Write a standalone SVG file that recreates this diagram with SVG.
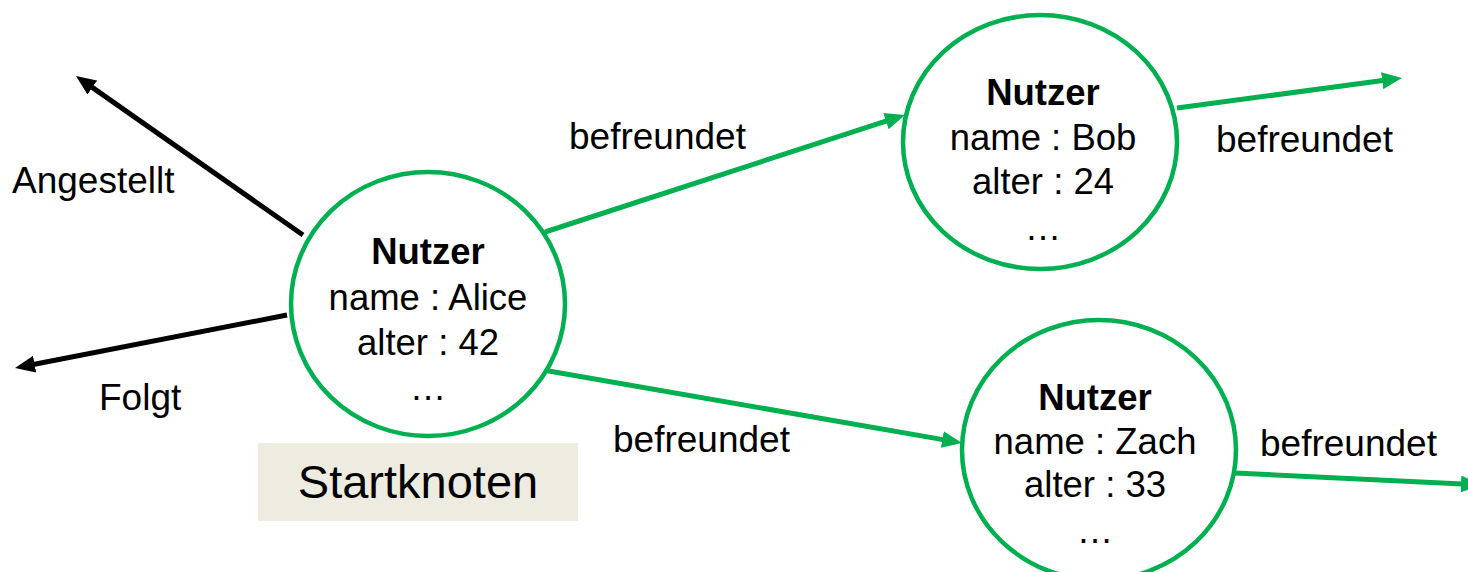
<svg xmlns="http://www.w3.org/2000/svg" width="1468" height="572" viewBox="0 0 1468 572">
  <style>
    .node { fill: #FFFFFF; stroke: #00B050; stroke-width: 4.5; }
    .rel { stroke-width: 5; fill: none; }
    .green { stroke: #00B050; }
    .black { stroke: #000000; }
    text { font-family: "Liberation Sans", Arial, sans-serif; fill: #000000; }
    .title { font-size: 36.5px; font-weight: bold; text-anchor: middle; }
    .prop { font-size: 36.5px; text-anchor: middle; }
    .label { font-size: 37px; }
    .tag { font-size: 47px; text-anchor: middle; }
  </style>
  <defs>
    <marker id="head-green" markerUnits="userSpaceOnUse" markerWidth="20" markerHeight="17" refX="8" refY="8.5" orient="auto">
      <path d="M0,0 L20,8.5 L0,17 z" fill="#00B050"/>
    </marker>
    <marker id="head-black" markerUnits="userSpaceOnUse" markerWidth="20" markerHeight="17" refX="8" refY="8.5" orient="auto">
      <path d="M0,0 L20,8.5 L0,17 z" fill="#000000"/>
    </marker>
  </defs>

  <!-- relationships -->
  <g id="connectors">
    <line class="rel black" x1="303" y1="235" x2="85.8" y2="82.9" marker-end="url(#head-black)"/>
    <line class="rel black" x1="287" y1="315" x2="26.8" y2="365.7" marker-end="url(#head-black)"/>
    <line class="rel green" x1="545" y1="232" x2="893.6" y2="118.7" marker-end="url(#head-green)"/>
    <line class="rel green" x1="543" y1="370" x2="950.2" y2="440.9" marker-end="url(#head-green)"/>
    <line class="rel green" x1="1177" y1="108" x2="1390.1" y2="79.6" marker-end="url(#head-green)"/>
    <line class="rel green" x1="1235" y1="473" x2="1469" y2="484.4" marker-end="url(#head-green)"/>
    <text class="label" x="12" y="193">Angestellt</text>
    <text class="label" x="99" y="410">Folgt</text>
    <text class="label" x="569" y="149">befreundet</text>
    <text class="label" x="613" y="452">befreundet</text>
    <text class="label" x="1216" y="152">befreundet</text>
    <text class="label" x="1260" y="456">befreundet</text>
  </g>

  <!-- start node marker -->
  <g id="start-label">
    <rect x="258" y="443" width="320" height="78" fill="#EEECE1"/>
    <text class="tag" x="418" y="498">Startknoten</text>
  </g>

  <g id="node-alice">
    <ellipse class="node" cx="428" cy="304" rx="137" ry="132"/>
    <text class="title" x="428" y="264">Nutzer</text>
    <text class="prop" x="428" y="310">name : Alice</text>
    <text class="prop" x="428" y="355">alter : 42</text>
    <text class="prop" x="428" y="400">…</text>
  </g>

  <g id="node-bob">
    <ellipse class="node" cx="1040" cy="142" rx="137" ry="127"/>
    <text class="title" x="1043" y="105">Nutzer</text>
    <text class="prop" x="1043" y="150">name : Bob</text>
    <text class="prop" x="1043" y="194">alter : 24</text>
    <text class="prop" x="1043" y="240">…</text>
  </g>

  <g id="node-zach">
    <ellipse class="node" cx="1099" cy="450" rx="137" ry="130"/>
    <text class="title" x="1095" y="410">Nutzer</text>
    <text class="prop" x="1095" y="454">name : Zach</text>
    <text class="prop" x="1095" y="497">alter : 33</text>
    <text class="prop" x="1095" y="543">…</text>
  </g>
</svg>
